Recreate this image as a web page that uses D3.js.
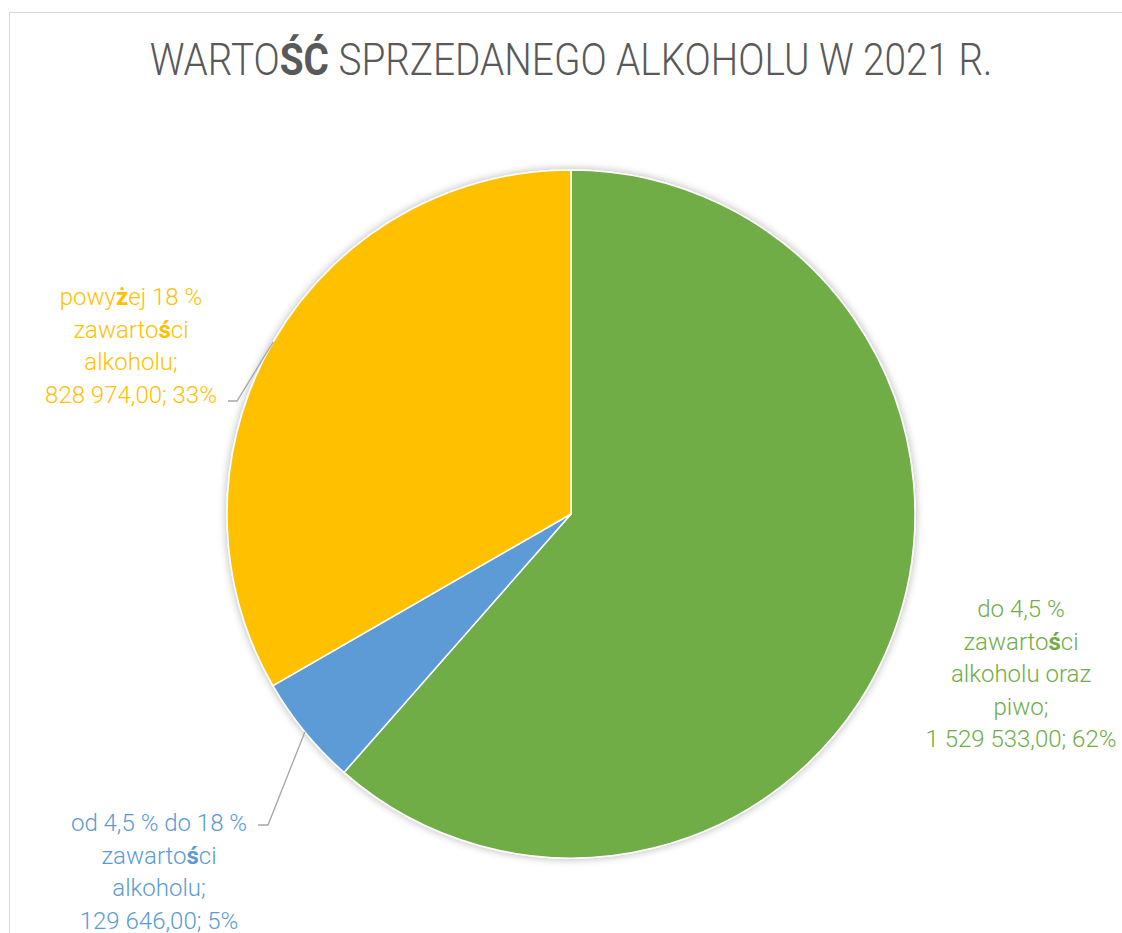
<!DOCTYPE html>
<html>
<head>
<meta charset="utf-8">
<script src="https://cdn.jsdelivr.net/npm/d3@7"></script>
<style>
  body { margin: 0; background: #fff; }
  text { font-family: "Roboto", "Liberation Sans", sans-serif; font-weight: 300; }
</style>
</head>
<body>
<div id="chart"></div>
<script>
  // dane
  const categories = [
    "do 4,5 % zawartości alkoholu oraz piwo",
    "od 4,5 % do 18 % zawartości alkoholu",
    "powyżej 18 % zawartości alkoholu"
  ];
  const values = [1529533.00, 129646.00, 828974.00];
  const percents = [62, 5, 33];
  const colors = ["#70AD47", "#5B9BD5", "#FFC000"];
  const labelLines = [
    ["do 4,5 %", "zawartości", "alkoholu oraz", "piwo;"],
    ["od 4,5 % do 18 %", "zawartości", "alkoholu;"],
    ["powyżej 18 %", "zawartości", "alkoholu;"]
  ];
  const title = "WARTOŚĆ SPRZEDANEGO ALKOHOLU W 2021 R.";

  const W = 1122, H = 933;
  const CX = 571, CY = 514, R = 344;

  // pozycje etykiet (środek tekstu, pierwsza linia bazowa)
  const labelPos = [
    { x: 1021, y: 617, leader: null },
    { x: 159, y: 831, leader: { corner: [268, 825], end: [258, 825] } },
    { x: 131, y: 305, leader: { corner: [237, 401], end: [228, 401] } }
  ];

  const svg = d3.select("#chart").append("svg")
    .attr("width", W).attr("height", H);

  // ramka wykresu
  svg.append("rect")
    .attr("x", 9.5).attr("y", 12.5)
    .attr("width", W + 20).attr("height", H + 20)
    .attr("fill", "#fff").attr("stroke", "#d9d9d9").attr("stroke-width", 1);

  // tekst z pogrubionymi polskimi znakami (jak w oryginale)
  function richText(sel, str) {
    const parts = str.split(/([śćżŚĆ])/);
    parts.forEach(p => {
      if (!p) return;
      const t = sel.append("tspan").text(p);
      if (/^[śćżŚĆ]$/.test(p)) t.attr("font-weight", "bold");
    });
  }

  // tytuł, zwężony do szerokości z oryginału
  const titleG = svg.append("g");
  const titleText = titleG.append("text")
    .attr("x", 0).attr("y", 0)
    .attr("text-anchor", "middle")
    .attr("font-size", 45)
    .attr("fill", "#595959");
  richText(titleText, title);
  const tw = titleText.node().getComputedTextLength();
  titleG.attr("transform", `translate(${CX},75) scale(${843 / tw},1)`);

  const defs = svg.append("defs");
  const f = defs.append("filter").attr("id", "shadow")
    .attr("x", "-10%").attr("y", "-10%").attr("width", "120%").attr("height", "120%");
  f.append("feGaussianBlur").attr("in", "SourceAlpha").attr("stdDeviation", 4);
  f.append("feComponentTransfer").append("feFuncA").attr("type", "linear").attr("slope", 0.3);
  const fm = f.append("feMerge");
  fm.append("feMergeNode");
  fm.append("feMergeNode").attr("in", "SourceGraphic");

  const pie = d3.pie().sort(null).value(d => d);
  const arcs = pie(values);
  const arc = d3.arc().innerRadius(0).outerRadius(R);

  const g = svg.append("g").attr("transform", `translate(${CX},${CY})`);
  g.append("g").attr("filter", "url(#shadow)")
    .selectAll("path")
    .data(arcs)
    .enter()
    .append("path")
    .attr("d", arc)
    .attr("fill", (d, i) => colors[i])
    .attr("stroke", "#fff")
    .attr("stroke-width", 1.5);

  const fmt = v => d3.format(",.2f")(v).replace(/,/g, " ").replace(".", ",");

  // linie odniesienia
  arcs.forEach((d, i) => {
    const lp = labelPos[i].leader;
    if (!lp) return;
    const a = (d.startAngle + d.endAngle) / 2;
    const sx = CX + R * Math.sin(a), sy = CY - R * Math.cos(a);
    svg.append("polyline")
      .attr("points", [[sx, sy], lp.corner, lp.end].map(p => p.join(",")).join(" "))
      .attr("fill", "none")
      .attr("stroke", "#a6a6a6")
      .attr("stroke-width", 1.3);
  });

  // etykiety
  arcs.forEach((d, i) => {
    const lines = labelLines[i].concat([fmt(values[i]) + "; " + percents[i] + "%"]);
    const t = svg.append("text")
      .attr("text-anchor", "middle")
      .attr("font-size", 24)
      .attr("fill", colors[i]);
    lines.forEach((ln, k) => {
      const ts = t.append("tspan")
        .attr("x", labelPos[i].x)
        .attr("y", labelPos[i].y + k * 32.5);
      richText(ts, ln);
    });
  });
</script>
</body>
</html>
